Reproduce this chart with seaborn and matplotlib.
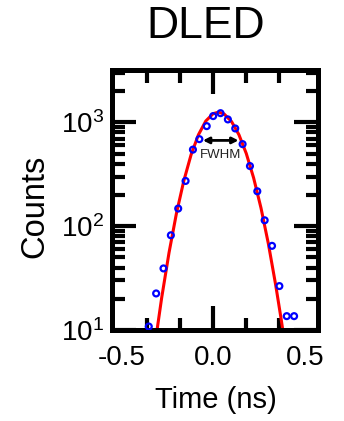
import matplotlib
matplotlib.use("Agg")
import matplotlib.pyplot as plt
import seaborn as sns
import pandas as pd

# ---- data ----
time_pts = [-0.35, -0.31, -0.27, -0.23, -0.19, -0.15, -0.11, -0.075, -0.035, 0.0,
            0.04, 0.08, 0.12, 0.16, 0.20, 0.24, 0.28, 0.32, 0.36, 0.40, 0.44]
counts_pts = [10.8, 22.5, 39.2, 81.8, 148, 273, 547, 690, 921, 1151,
              1228, 1069, 875, 618, 380, 217, 114, 64.7, 26.5, 13.6, 13.6]

fit_time = [-0.31, -0.28, -0.24, -0.20, -0.16, -0.12, -0.08, -0.04, 0.0, 0.03,
            0.06, 0.10, 0.14, 0.18, 0.22, 0.26, 0.30, 0.34, 0.37, 0.38]
fit_counts = [8.7, 20.4, 55.5, 132, 272, 489, 761, 1032, 1216, 1256,
              1204, 1019, 762, 502, 292, 150, 68, 27.1, 12.6, 9.6]

xtick_vals = [-0.5, 0.0, 0.5]
xtick_labels = ["-0.5", "0.0", "0.5"]
xminor_vals = [-0.36, -0.18, 0.18, 0.36]
ytick_vals = [10, 100, 1000]

title = "DLED"
xlabel = "Time (ns)"
ylabel = "Counts"
fwhm_label = "FWHM"

# ---- style ----
sns.set_style("ticks")
plt.rcParams["font.family"] = ["Liberation Sans", "DejaVu Sans"]
plt.rcParams["mathtext.fontset"] = "custom"
plt.rcParams["mathtext.rm"] = "Liberation Sans"
plt.rcParams["mathtext.it"] = "Liberation Sans:italic"
plt.rcParams["mathtext.bf"] = "Liberation Sans:bold"
plt.rcParams["mathtext.default"] = "regular"
for k in ["text.color", "axes.labelcolor", "xtick.color", "ytick.color",
          "axes.edgecolor", "xtick.labelcolor", "ytick.labelcolor"]:
    plt.rcParams[k] = "black"

W, H = 344, 421
fig = plt.figure(figsize=(W / 100, H / 100), dpi=100)
ax = fig.add_axes([112 / W, (H - 330) / H, 206 / W, 260 / H])

pts = pd.DataFrame({"t": time_pts, "c": counts_pts})
fit = pd.DataFrame({"t": fit_time, "c": fit_counts})

sns.lineplot(data=fit, x="t", y="c", ax=ax, color="#FF0000", lw=2.2,
             sort=True, estimator=None, zorder=2)
sns.scatterplot(data=pts, x="t", y="c", ax=ax, marker="o", s=18,
                facecolors="none", edgecolor="#0000FF", linewidth=1.6, zorder=3)

ax.set_yscale("log")
ax.set_xlim(-0.55, 0.57)
ax.set_ylim(10, 3200)

ax.set_xticks(xtick_vals)
ax.set_xticklabels(xtick_labels)
ax.set_xticks(xminor_vals, minor=True)
ax.set_yticks(ytick_vals)

for sp in ax.spines.values():
    sp.set_linewidth(3.6)
    sp.set_visible(True)
    sp.set_edgecolor("black")

ax.tick_params(which="both", direction="in", top=True, right=True, width=3.0, color="black")
ax.tick_params(which="major", length=17)
ax.tick_params(which="minor", length=9)
ax.tick_params(axis="x", which="major", labelsize=20, pad=11, labelcolor="black")
ax.tick_params(axis="y", which="major", labelsize=20, pad=5.5, labelcolor="black")

for i, tk in enumerate(ax.xaxis.get_major_ticks()):
    if i in (0, 2):
        tk.tick1line.set_visible(False)
        tk.tick2line.set_visible(False)

ax.set_xlabel("")
ax.set_ylabel("")

# FWHM arrow + text
ax.annotate("", xy=(-0.056, 671), xytext=(0.138, 671),
            arrowprops=dict(arrowstyle="<|-|>", color="black", lw=2.0,
                            mutation_scale=9, shrinkA=0, shrinkB=0))
ax.text(0.038, 482, fwhm_label, fontsize=9.5, ha="center", va="center", color="#222222")

fig.text(206 / W, 1 - 38 / H, title, fontsize=32, ha="center", va="baseline", color="black")
fig.text(216 / W, 1 - 408 / H, xlabel, fontsize=21, ha="center", va="baseline", color="black")
fig.text(43 / W, 1 - 206 / H, ylabel, fontsize=23.5, rotation=90,
         rotation_mode="anchor", ha="center", va="baseline", color="black")

fig.savefig("out.png", dpi=100)
